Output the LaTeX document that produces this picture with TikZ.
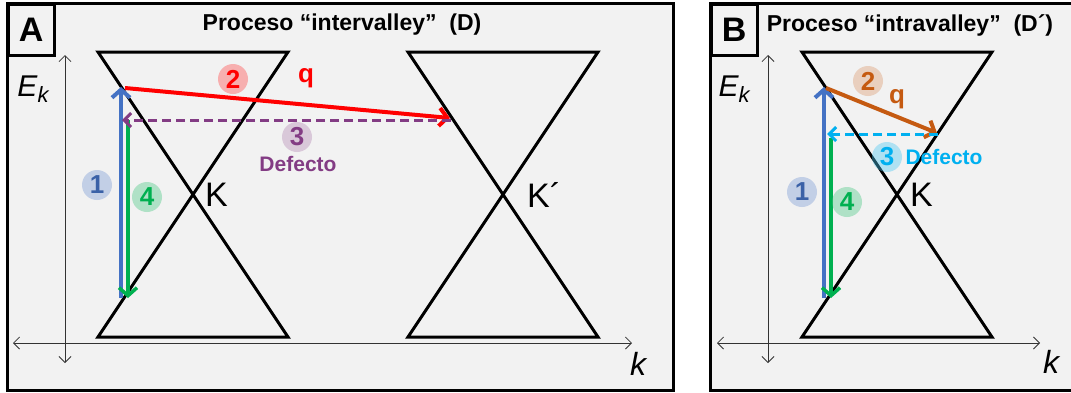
\documentclass[tikz,border=0pt]{standalone}
\usepackage{fontspec}
\setmainfont{Liberation Sans}
\usetikzlibrary{arrows.meta}
\definecolor{panelbg}{HTML}{F2F2F2}
\definecolor{pump}{HTML}{4472C4}
\definecolor{relax}{HTML}{00B050}
\definecolor{phonon}{HTML}{FF0000}
\definecolor{defect}{HTML}{833C84}
\definecolor{phononB}{HTML}{C55A11}
\definecolor{defectB}{HTML}{00B0F0}

\begin{document}
\begin{tikzpicture}[x=1pt, y=-1pt,
      panel/.style={draw=black, line width=3pt, fill=panelbg},
      tag/.style={draw=black, line width=2.5pt, anchor=north west, inner sep=0pt,
                  minimum width=46pt, minimum height=51pt,
                  font=\fontsize{34}{34}\selectfont\bfseries},
      title/.style={font=\fontsize{23}{23}\selectfont\bfseries, inner sep=0pt},
      cone/.style={draw=black, line width=3pt, line join=miter},
      axis/.style={{Straight Barb[length=6pt,width=12pt]}-{Straight Barb[length=6pt,width=12pt]},
                   line width=0.8pt, draw=black!80},
      trans/.style={line width=4pt, -{Straight Barb[length=8pt,width=18pt]}},
      scat/.style={line width=3pt, dash pattern=on 9pt off 5pt,
                   -{Straight Barb[length=7pt,width=14pt]}},
      badge/.style={circle, inner sep=0pt, minimum size=30pt, fill opacity=0.4,
                    text opacity=1, font=\fontsize{26}{26}\selectfont\bfseries},
      valley/.style={font=\fontsize{34}{34}\selectfont, inner sep=0pt},
      energy/.style={font=\fontsize{30}{30}\selectfont\itshape, inner sep=0pt},
      wave/.style={font=\fontsize{32}{32}\selectfont\itshape, inner sep=0pt},
      qlab/.style={font=\fontsize{26}{26}\selectfont\bfseries, inner sep=0pt},
      deflab/.style={font=\fontsize{21}{21}\selectfont\bfseries, inner sep=0pt}
    ]
      \useasboundingbox (0,0) rectangle (1071,392);
      \fill[white] (0,0) rectangle (1071,392);

      % panel A
      \draw[panel] (7,3) rectangle (673,390);
      \node[tag] (tagA) at (7,3) {A};
      \node[title] (titleA) at (342,25) {Proceso “intervalley”\ \ (D)};
      \draw[axis] (65,363) -- (65,55);
      \draw[axis] (13,343) -- (632,343);
      \node[energy] (EA) at (33,89) {E\raisebox{-0.35ex}{\fontsize{22}{22}\selectfont k}};
      \node[wave] (kA) at (638,364) {k};
      \draw[cone] (98,52) -- (288,52) -- (98,337) -- (288,337) -- cycle;
      \draw[cone] (408,52) -- (598,52) -- (408,337) -- (598,337) -- cycle;
      \node[valley, anchor=west] (KA) at (205,195) {K};
      \node[valley, anchor=west] (KpA) at (527,195) {K´};

      \coordinate (pumpAlo) at (121,298);
      \coordinate (pumpAhi) at (121,87);
      \coordinate (relaxAhi) at (128,120);
      \coordinate (relaxAlo) at (128,298);
      \coordinate (phononAfrom) at (125,88);
      \coordinate (phononAto) at (450,118);
      \coordinate (defectAfrom) at (451,120);
      \coordinate (defectAto) at (122,120);
      \draw[trans, pump] (pumpAlo) -- (pumpAhi);
      \draw[trans, relax, line width=3.5pt] (relaxAhi) -- (relaxAlo);
      \draw[trans, phonon] (phononAfrom) -- (phononAto);
      \draw[scat, defect] (defectAfrom) -- (defectAto);

      \node[badge, fill=pump!70, text=pump!85!black] (oneA) at (97,185) {1};
      \node[badge, fill=relax!70, text=relax] (fourA) at (147,197) {4};
      \node[badge, fill=phonon!70, text=phonon] (twoA) at (233,79) {2};
      \node[badge, fill=defect!60, text=defect] (threeA) at (297,137) {3};
      \node[qlab, text=phonon] (qA) at (306,78) {q};
      \node[deflab, text=defect] (defA) at (298,164) {Defecto};

      % panel B
      \draw[panel] (710,3) rectangle (1080,390);
      \node[tag] (tagB) at (710,3) {B};
      \node[title] (titleB) at (910,25) {Proceso “intravalley”\ \ (D´)};
      \draw[axis] (768,363) -- (768,55);
      \draw[axis] (717,343) -- (1040,343);
      \node[energy] (EB) at (734,89) {E\raisebox{-0.35ex}{\fontsize{22}{22}\selectfont k}};
      \node[wave] (kB) at (1051,362) {k};
      \draw[cone] (802,52) -- (992,52) -- (802,337) -- (992,337) -- cycle;
      \node[valley, anchor=west] (KB) at (910,195) {K};

      \coordinate (pumpBlo) at (824,298);
      \coordinate (pumpBhi) at (824,87);
      \coordinate (relaxBhi) at (831,138);
      \coordinate (relaxBlo) at (831,298);
      \coordinate (phononBfrom) at (826,88);
      \coordinate (phononBto) at (937,133);
      \coordinate (defectBfrom) at (938,134);
      \coordinate (defectBto) at (827,134);
      \draw[trans, pump] (pumpBlo) -- (pumpBhi);
      \draw[trans, relax, line width=3.5pt] (relaxBhi) -- (relaxBlo);
      \draw[trans, phononB] (phononBfrom) -- (phononBto);
      \draw[scat, defectB] (defectBfrom) -- (defectBto);

      \node[badge, fill=pump!70, text=pump!85!black] (oneB) at (802,192) {1};
      \node[badge, fill=relax!70, text=relax] (fourB) at (847,202) {4};
      \node[badge, fill=phononB!60, text=phononB] (twoB) at (868,81) {2};
      \node[badge, fill=defectB!70, text=defectB] (threeB) at (887,157) {3};
      \node[qlab, text=phononB] (qB) at (897,99) {q};
      \node[deflab, text=defectB] (defB) at (944,157) {Defecto};
    \end{tikzpicture}
\end{document}
